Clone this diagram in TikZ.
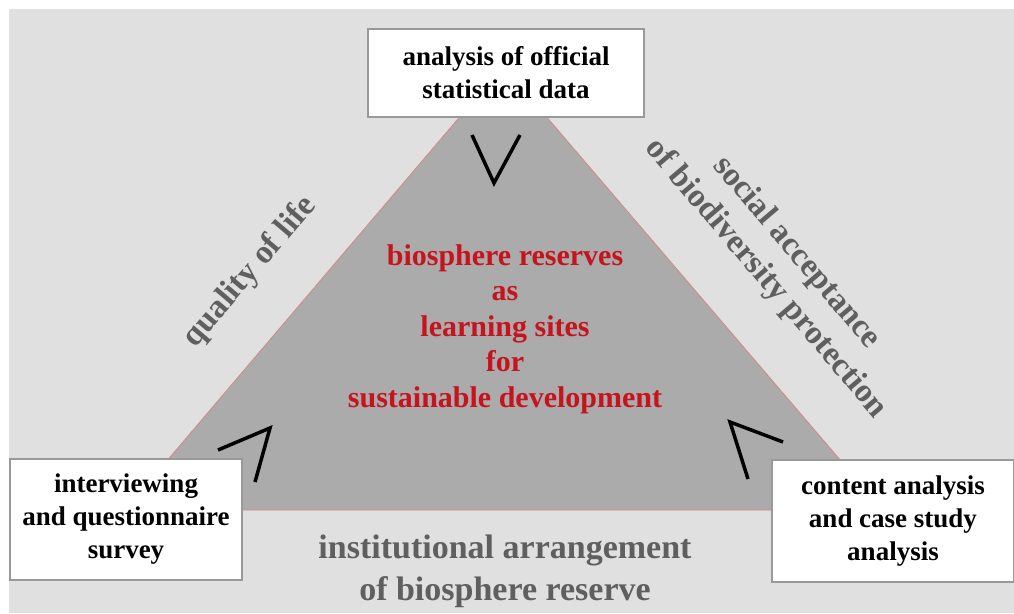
\documentclass[tikz,border=0pt]{standalone}
\usepackage{fontspec}
\setmainfont{Liberation Serif}
\usepackage{tikz}
\definecolor{bggray}{RGB}{224,224,224}
\definecolor{trigray}{RGB}{171,171,171}
\definecolor{edgered}{RGB}{214,135,135}
\definecolor{labelgray}{RGB}{95,95,95}
\definecolor{centrered}{RGB}{198,20,30}
\tikzstyle{methodbox} = [draw=black!40, fill=white, line width=1.2pt,
    rectangle, align=center, inner sep=0pt, font=\bfseries\fontsize{27}{33}\selectfont]
\tikzstyle{sidelabel} = [text=labelgray, align=center, font=\bfseries\fontsize{33}{40}\selectfont]
\tikzstyle{tick} = [line width=3.5pt, black]

\begin{document}
\begin{tikzpicture}[x=1pt,y=-1pt]
    \useasboundingbox (0,0) rectangle (1014,613);
    \fill[bggray] (9,9) rectangle (1014,613);
    % triangle
    \coordinate (apex) at (503,66);
    \coordinate (lcorner) at (125,510);
    \coordinate (rcorner) at (883,510);
    \filldraw[fill=trigray, draw=edgered, line width=0.8pt] (lcorner) -- (apex) -- (rcorner) -- cycle;
    % side labels
    \node[sidelabel, rotate=49.6] (quality) at (250,272) {quality of life};
    \node[sidelabel, rotate=-49.6] (acceptance) at (781,266) {social acceptance\\of biodiversity protection};
    \node[sidelabel, font=\bfseries\fontsize{34}{42}\selectfont] (institution) at (505,571) {institutional arrangement\\of biosphere reserve};
    % centre
    \node[text=centrered, align=center, font=\bfseries\fontsize{30}{35.5}\selectfont] (centre) at (505,329)
        {biosphere reserves\\as\\learning sites\\for\\sustainable development};
    % method boxes
    \node[methodbox, minimum width=276, minimum height=88] (statistics) at (506,73) {analysis of official\\statistical data};
    \node[methodbox, minimum width=232, minimum height=121] (interview) at (126,519.5) {interviewing\\and questionnaire\\survey};
    \node[methodbox, minimum width=242, minimum height=122] (content) at (893,521) {content analysis\\and case study\\analysis};
    % angle marks
    \draw[tick] (472,135) -- (494,183) -- (520,135);
    \draw[tick] (218,450) -- (270,428) -- (255,482);
    \draw[tick] (783,442) -- (730,422) -- (748,479);
\end{tikzpicture}
\end{document}
